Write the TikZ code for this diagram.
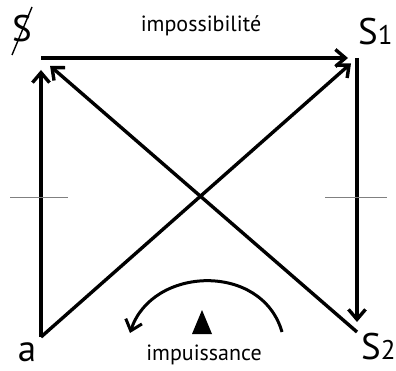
\documentclass[tikz,border=0pt]{standalone}
\usepackage{fontspec}
\setmainfont{PT Sans}
\usetikzlibrary{arrows.meta}
\begin{document}
\begin{tikzpicture}[x=1pt,y=-1pt,every node/.style={inner sep=0pt},
  big/.style={font=\fontsize{37}{37}\selectfont},
  lbl/.style={font=\fontsize{22}{22}\selectfont},
  side/.style={line width=3.4pt,-{Straight Barb[length=10pt,width=17pt]}}]
\useasboundingbox (0,0) rectangle (396,371);
% letters at the corners
\node[big] (bs) at (22,29) {S};
\draw[line width=1.4pt] ([shift={(-10,26)}]bs.center) -- ([shift={(10,-22)}]bs.center);
\node[big,anchor=base west] (sone) at (358,45) {S\fontsize{27}{27}\selectfont 1};
\node[big,anchor=base] (a) at (27,361) {a};
\node[big,anchor=base west] (stwo) at (361,359) {S\fontsize{27}{27}\selectfont 2};
\coordinate (tl) at (41,58);
\coordinate (tr) at (357,58);
\coordinate (bl) at (41,337);
\coordinate (br) at (357,332);
% sides and diagonals
\draw[side,shorten >=9pt] (tl) -- (tr);
\draw[side,shorten >=10pt] (tr) -- (br);
\draw[side,shorten >=12pt] (bl) -- (tl);
\draw[side,shorten >=8pt] (bl) -- (tr);
\draw[side,shorten >=12pt] (br) -- (tl);
\draw[gray,line width=0.9pt] (10,197) -- (68,197) (325,197) -- (387,197);
% bottom
\coordinate (cs) at (282,332);
\coordinate (ce) at (130,333);
\draw[side,line width=3pt] (cs) .. controls (262,262) and (152,266) .. (ce);
\fill (202,310) -- (212,334) -- (192,334) -- cycle;
\node[lbl] (imp) at (204,355) {impuissance};
\node[lbl] (ipo) at (201,26) {impossibilité};
\end{tikzpicture}
\end{document}
